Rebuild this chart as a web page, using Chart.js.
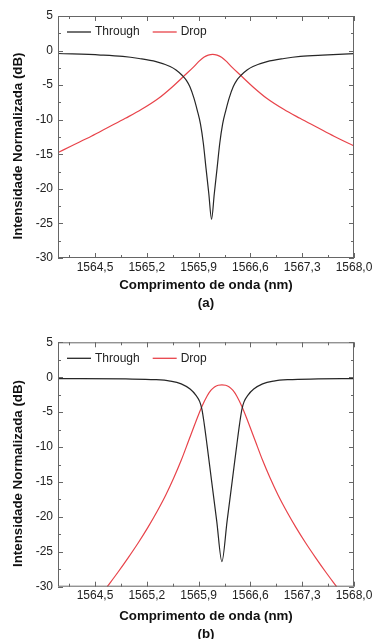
<!DOCTYPE html>
<html>
<head>
<meta charset="utf-8">
<script src="https://cdn.jsdelivr.net/npm/chart.js@4.4.1/dist/chart.umd.min.js"></script>
<style>
  html, body { margin: 0; padding: 0; background: #fff; overflow: hidden; }
  .box { position: absolute; left: 0; width: 375px; }
  #boxA { top: 0; height: 312px; }
  #boxB { top: 326px; height: 317px; }
</style>
</head>
<body>
<div class="box" id="boxA"><canvas id="chartA"></canvas></div>
<div class="box" id="boxB"><canvas id="chartB"></canvas></div>
<script>
// tick labels
const xTicks = [1564.5, 1565.2, 1565.9, 1566.6, 1567.3, 1568.0];
const yTicks = [5, 0, -5, -10, -15, -20, -25, -30];
const yTitle = 'Intensidade Normalizada (dB)';

// (a) through port
const lambdaThroughA = [1564.0, 1564.575, 1564.875, 1565.095, 1565.325, 1565.515, 1565.595, 1565.68, 1565.735, 1565.781,
  1565.835, 1565.881, 1565.925, 1565.964, 1566.0, 1566.038, 1566.075, 1566.112, 1566.15, 1566.186,
  1566.225, 1566.269, 1566.315, 1566.369, 1566.415, 1566.47, 1566.555, 1566.635, 1566.825, 1567.055,
  1567.275, 1567.575, 1568.0];
const throughA = [-0.42, -0.65, -0.85, -1.15, -1.6, -2.3, -2.8, -3.6, -4.3, -5.2,
  -6.8, -8.6, -10.6, -13.4, -17.0, -20.7, -24.4, -20.7, -17.0, -13.4,
  -10.6, -8.6, -6.8, -5.2, -4.3, -3.6, -2.8, -2.3, -1.6, -1.15,
  -0.85, -0.65, -0.45];

// (a) drop port
const lambdaDropA = [1564.0, 1564.18, 1564.45, 1564.68, 1564.91, 1565.13, 1565.36, 1565.54, 1565.72, 1565.83,
  1565.9, 1565.97, 1566.03, 1566.09, 1566.15, 1566.21, 1566.28, 1566.35, 1566.46, 1566.64,
  1566.82, 1567.05, 1567.27, 1567.5, 1567.73, 1568.0];
const dropA = [-14.75, -13.8, -12.4, -11.1, -9.8, -8.5, -6.9, -5.3, -3.5, -2.4,
  -1.6, -0.95, -0.65, -0.54, -0.65, -0.95, -1.6, -2.4, -3.5, -5.3,
  -6.9, -8.5, -9.8, -11.1, -12.4, -13.8];

// (b) through port
const lambdaThroughB = [1564.0, 1564.915, 1565.315, 1565.515, 1565.665, 1565.785, 1565.865, 1565.915, 1565.945, 1565.975,
  1566.015, 1566.075, 1566.145, 1566.215, 1566.285, 1566.355, 1566.415, 1566.455, 1566.485, 1566.515,
  1566.565, 1566.645, 1566.765, 1566.915, 1567.115, 1567.515, 1568.0];
const throughB = [-0.2, -0.25, -0.35, -0.55, -0.95, -1.7, -2.6, -3.5, -4.6, -6.6,
  -9.8, -14.8, -20.6, -26.4, -20.6, -14.8, -9.8, -6.6, -4.6, -3.5,
  -2.6, -1.7, -0.95, -0.55, -0.35, -0.25, -0.2];

// (b) drop port
const lambdaDropB = [1564.665, 1564.805, 1564.945, 1565.085, 1565.215, 1565.335, 1565.455, 1565.565, 1565.665, 1565.765,
  1565.865, 1565.945, 1566.015, 1566.065, 1566.115, 1566.165, 1566.215, 1566.265, 1566.315, 1566.365,
  1566.415, 1566.485, 1566.565, 1566.665, 1566.765, 1566.865, 1566.975, 1567.095, 1567.215, 1567.345,
  1567.485, 1567.625, 1567.765];
const dropB = [-30.0, -28.0, -25.9, -23.7, -21.5, -19.3, -16.9, -14.4, -11.9, -9.1,
  -6.3, -4.2, -2.7, -1.9, -1.4, -1.15, -1.1, -1.15, -1.4, -1.9,
  -2.7, -4.2, -6.3, -9.1, -11.9, -14.4, -16.9, -19.3, -21.5, -23.7,
  -25.9, -28.0, -30.0];

const toPoints = (xs, ys) => xs.map((x, i) => ({x: x, y: ys[i]}));

Chart.defaults.font.family = "'Liberation Sans', Arial, sans-serif";
Chart.defaults.color = '#222';

// frame around plot with inward major/minor ticks, legend row and y title
const frameTicks = {
  id: 'frameTicks',
  afterDraw(chart) {
    const {ctx, chartArea: a, scales: {x, y}} = chart;
    ctx.save();
    ctx.strokeStyle = '#666';
    ctx.lineWidth = 1;
    ctx.strokeRect(a.left + 0.5, a.top + 0.5, a.right - a.left - 1, a.bottom - a.top - 1);
    ctx.beginPath();
    const xMinor = xTicks.map(v => v - 0.35);
    const yMinor = yTicks.slice(1).map(v => v + 2.5);
    xTicks.forEach(v => {
      const px = Math.round(x.getPixelForValue(v)) + 0.5;
      ctx.moveTo(px, a.bottom); ctx.lineTo(px, a.bottom - 5);
      ctx.moveTo(px, a.top); ctx.lineTo(px, a.top + 5);
    });
    xMinor.forEach(v => {
      const px = Math.round(x.getPixelForValue(v)) + 0.5;
      ctx.moveTo(px, a.bottom); ctx.lineTo(px, a.bottom - 3);
      ctx.moveTo(px, a.top); ctx.lineTo(px, a.top + 3);
    });
    yTicks.forEach(v => {
      const py = Math.round(y.getPixelForValue(v)) + 0.5;
      ctx.moveTo(a.left, py); ctx.lineTo(a.left + 5, py);
      ctx.moveTo(a.right, py); ctx.lineTo(a.right - 5, py);
    });
    yMinor.forEach(v => {
      const py = Math.round(y.getPixelForValue(v)) + 0.5;
      ctx.moveTo(a.left, py); ctx.lineTo(a.left + 3, py);
      ctx.moveTo(a.right, py); ctx.lineTo(a.right - 3, py);
    });
    ctx.stroke();

    // legend inside the plot, top left, in one row
    ctx.font = "12px 'Liberation Sans', Arial, sans-serif";
    ctx.textBaseline = 'middle';
    let lx = a.left + 9;
    const ly = a.top + 16;
    chart.data.datasets.forEach(ds => {
      ctx.strokeStyle = ds.borderColor;
      ctx.lineWidth = 1.3;
      ctx.beginPath();
      ctx.moveTo(lx, ly); ctx.lineTo(lx + 24, ly);
      ctx.stroke();
      ctx.fillStyle = '#222';
      ctx.fillText(ds.label, lx + 28, ly);
      lx += 28 + ctx.measureText(ds.label).width + 13;
    });

    // y axis title (sits a little below the plot centre in the original)
    ctx.font = "bold 13.3px 'Liberation Sans', Arial, sans-serif";
    ctx.fillStyle = '#111';
    ctx.textAlign = 'center';
    ctx.translate(18, (a.top + a.bottom) / 2 + 9);
    ctx.rotate(-Math.PI / 2);
    ctx.fillText(yTitle, 0, 0);
    ctx.restore();
  }
};

function makeChart(id, through, drop, letter, topPad, xHeight) {
  const ctx = document.getElementById(id).getContext('2d');
  return new Chart(ctx, {
    type: 'line',
    data: {
      datasets: [
        {
          label: 'Through',
          data: through,
          borderColor: '#262626',
          borderWidth: 1.2,
          pointRadius: 0,
          cubicInterpolationMode: 'monotone'
        },
        {
          label: 'Drop',
          data: drop,
          borderColor: '#e8434a',
          borderWidth: 1.2,
          pointRadius: 0,
          cubicInterpolationMode: 'monotone'
        }
      ]
    },
    options: {
      responsive: true,
      maintainAspectRatio: false,
      animation: false,
      layout: { padding: { top: topPad, right: 21, bottom: 0, left: 0 } },
      plugins: { legend: { display: false }, tooltip: { enabled: false } },
      scales: {
        x: {
          type: 'linear',
          min: 1564,
          max: 1568,
          afterBuildTicks: s => { s.ticks = xTicks.map(v => ({value: v})); },
          afterFit: s => { s.height = xHeight; },
          ticks: {
            callback: v => v.toFixed(1).replace('.', ','),
            font: { size: 12 },
            color: '#222',
            padding: 2,
            maxRotation: 0,
            autoSkip: false
          },
          grid: { display: false, drawTicks: false },
          border: { display: false },
          title: {
            display: true,
            text: ['Comprimento de onda (nm)', letter],
            font: { size: 13.3, weight: 'bold', lineHeight: 1.35 },
            color: '#111',
            padding: { top: 0, bottom: 0 }
          }
        },
        y: {
          min: -30,
          max: 5,
          afterBuildTicks: s => { s.ticks = yTicks.map(v => ({value: v})); },
          afterFit: s => { s.width = 58; },
          ticks: {
            callback: v => String(v),
            font: { size: 12 },
            color: '#222',
            padding: 5
          },
          grid: { display: false, drawTicks: false },
          border: { display: false },
          title: { display: false }
        }
      }
    },
    plugins: [frameTicks]
  });
}

makeChart('chartA', toPoints(lambdaThroughA, throughA), toPoints(lambdaDropA, dropA), '(a)', 16, 54);
makeChart('chartB', toPoints(lambdaThroughB, throughB), toPoints(lambdaDropB, dropB), '(b)', 16.3, 56.3);
</script>
</body>
</html>
